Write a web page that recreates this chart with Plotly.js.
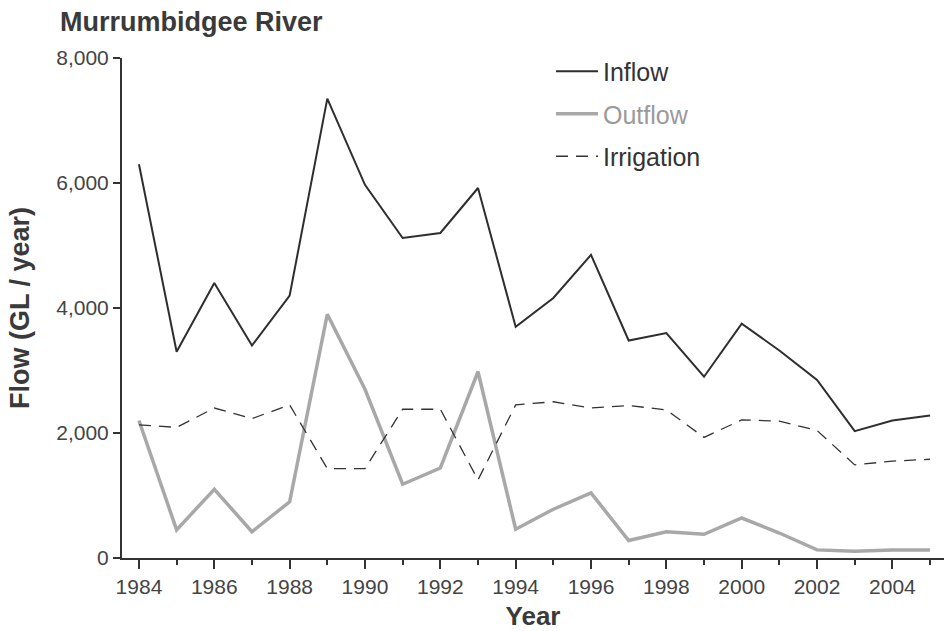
<!DOCTYPE html>
<html>
<head>
<meta charset="utf-8">
<script src="https://cdn.plot.ly/plotly-3.0.1.min.js"></script>
<style>html,body{margin:0;padding:0;background:#fff;}#chart{width:944px;height:631px;}</style>
</head>
<body>
<div id="chart"></div>
<script>
const years = [1984,1985,1986,1987,1988,1989,1990,1991,1992,1993,1994,1995,1996,1997,1998,1999,2000,2001,2002,2003,2004,2005];
const inflow = [6300,3300,4400,3400,4200,7350,5970,5120,5200,5920,3700,4160,4850,3480,3600,2900,3750,3320,2850,2030,2200,2280];
const outflow = [2200,450,1100,420,900,3900,2700,1180,1440,2980,460,780,1040,280,420,380,640,400,130,110,130,130];
const irrigation = [2130,2090,2400,2230,2450,1430,1430,2380,2380,1250,2450,2500,2400,2440,2370,1930,2210,2190,2040,1490,1550,1580];
const xTickVals = [1984,1986,1988,1990,1992,1994,1996,1998,2000,2002,2004];
const xTickText = ['1984','1986','1988','1990','1992','1994','1996','1998','2000','2002','2004'];
const yTickVals = [0,2000,4000,6000,8000];

const FONT = 'Liberation Sans, Arial, Helvetica, sans-serif';
const traces = [
  {x: years, y: inflow, name: 'Inflow', type: 'scatter', mode: 'lines', legendgroup: 'a',
   line: {color: '#2e2e2e', width: 2}},
  {x: years, y: outflow, name: '<span style="color:#9a9a9a">Outflow</span>', type: 'scatter', mode: 'lines', legendgroup: 'b',
   line: {color: '#a8a8a8', width: 3.5}},
  {x: years, y: irrigation, name: 'Irrigation', type: 'scatter', mode: 'lines', legendgroup: 'c',
   line: {color: '#333333', width: 1.3, dash: '12px,8px'}}
];
const layout = {
  width: 944, height: 631,
  margin: {l: 122, r: 0, t: 58, b: 73},
  paper_bgcolor: '#fff', plot_bgcolor: '#fff',
  font: {family: FONT, color: '#444', size: 21},
  title: {text: '<b>Murrumbidgee River</b>', x: 60/944, xanchor: 'left', xref: 'container',
          y: 1 - 22/631, yanchor: 'middle', yref: 'container',
          font: {family: FONT, size: 27, color: '#3a3a3a'}},
  showlegend: true,
  legend: {x: (551-122)/822, y: 1.019, xanchor: 'left', yanchor: 'top', bgcolor: 'rgba(0,0,0,0)',
           font: {family: FONT, size: 25, color: '#333'}, tracegroupgap: 7, itemwidth: 42},
  xaxis: {
    range: [1983.55, 2005.37], showgrid: false, zeroline: false,
    showline: true, linecolor: '#333', linewidth: 2,
    tickmode: 'array', tickvals: xTickVals, ticktext: xTickText,
    ticks: 'outside', ticklen: 9, tickwidth: 2, tickcolor: '#333',
    minor: {dtick: 1, tick0: 1984, ticks: 'outside', ticklen: 5, tickwidth: 2, tickcolor: '#333'},
    tickfont: {family: FONT, size: 21, color: '#444'},
    title: {text: '<b>Year</b>', font: {family: FONT, size: 26, color: '#3a3a3a'}, standoff: 10}
  },
  yaxis: {
    range: [0, 8000], showgrid: false, zeroline: false,
    showline: true, linecolor: '#333', linewidth: 2,
    tickmode: 'array', tickvals: yTickVals, tickformat: ',d',
    ticks: 'outside', ticklen: 7, tickwidth: 2, tickcolor: '#333',
    tickfont: {family: FONT, size: 21, color: '#444'},
    title: {text: '<b>Flow (GL / year)</b>', font: {family: FONT, size: 27, color: '#3a3a3a'}, standoff: 19}
  }
};
Plotly.newPlot('chart', traces, layout, {displayModeBar: false, staticPlot: true});
</script>
</body>
</html>
